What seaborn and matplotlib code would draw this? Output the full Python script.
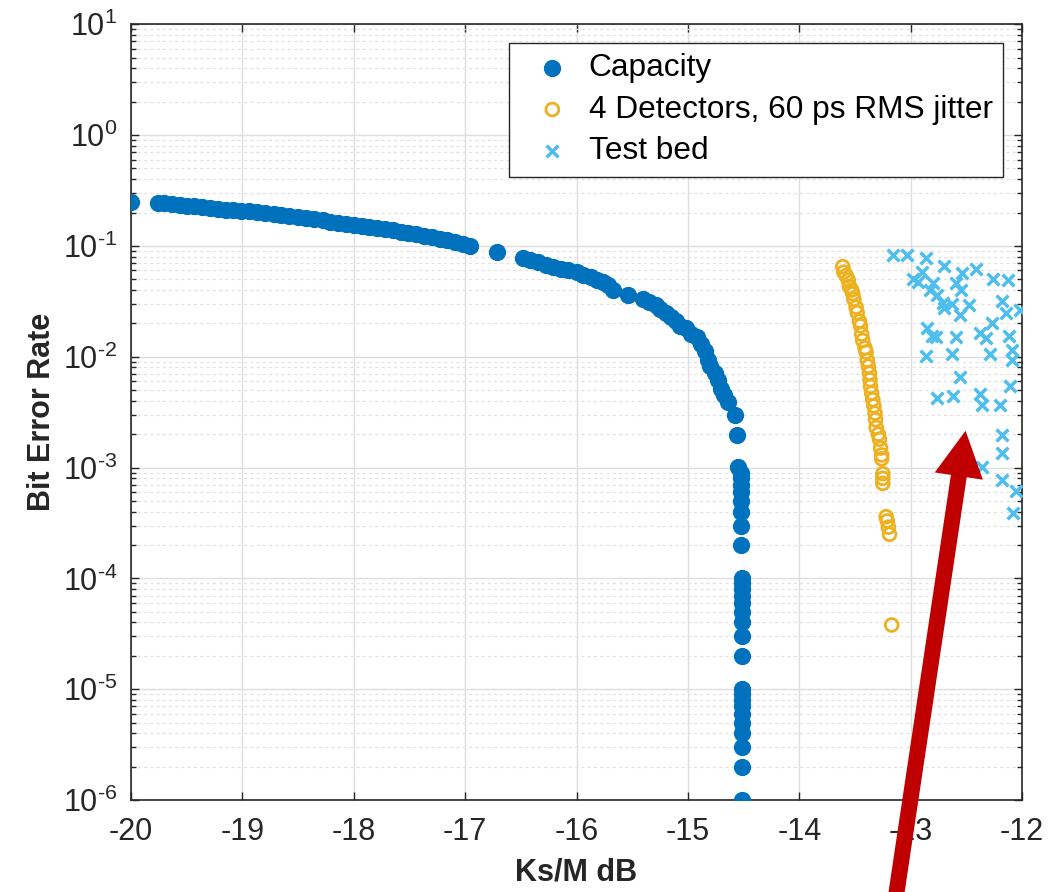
import matplotlib
matplotlib.use("Agg")
import matplotlib.pyplot as plt
import seaborn as sns
import numpy as np
from matplotlib.patches import FancyArrowPatch
from matplotlib.ticker import LogLocator, NullFormatter, MultipleLocator, FuncFormatter

# Capacity curve (Ks/M in dB, bit error rate)
cap_ks = [-20.00, -19.76, -19.70, -19.63, -19.56, -19.50, -19.43, -19.36, -19.29,
          -19.22, -19.15, -19.08, -19.01, -18.94, -18.87, -18.80, -18.72, -18.65,
          -18.58, -18.50, -18.43, -18.36, -18.28, -18.21, -18.14, -18.07, -18.00,
          -17.93, -17.86, -17.79, -17.72, -17.65, -17.58, -17.51, -17.44, -17.37,
          -17.30, -17.23, -17.16, -17.09, -17.02, -16.96, -16.71, -16.48, -16.42,
          -16.35, -16.27, -16.21, -16.14, -16.08, -16.00, -15.94, -15.87, -15.82,
          -15.76, -15.72, -15.67, -15.54, -15.40, -15.35, -15.29, -15.25, -15.20,
          -15.15, -15.11, -15.07, -15.02, -14.97, -14.92, -14.88, -14.85, -14.82,
          -14.80, -14.76, -14.73, -14.70, -14.68, -14.64, -14.58, -14.56, -14.55,
          -14.52, -14.52, -14.52, -14.52, -14.52, -14.52, -14.52, -14.52,
          -14.51, -14.51, -14.51, -14.51, -14.51, -14.51, -14.51, -14.51, -14.51,
          -14.51, -14.51, -14.51, -14.51, -14.51, -14.51, -14.51, -14.51, -14.51,
          -14.51]
cap_ber = [0.250, 0.246, 0.242, 0.238, 0.234, 0.231, 0.228, 0.223, 0.218,
           0.216, 0.213, 0.210, 0.208, 0.205, 0.202, 0.199, 0.195, 0.190,
           0.186, 0.182, 0.178, 0.174, 0.170, 0.166, 0.162, 0.158, 0.155,
           0.151, 0.148, 0.145, 0.141, 0.138, 0.134, 0.130, 0.127, 0.123,
           0.120, 0.116, 0.112, 0.108, 0.104, 0.100, 0.088, 0.078, 0.075,
           0.071, 0.067, 0.064, 0.062, 0.060, 0.058, 0.055, 0.052, 0.049,
           0.047, 0.044, 0.040, 0.036, 0.033, 0.031, 0.029, 0.027, 0.025,
           0.023, 0.021, 0.019, 0.018, 0.016, 0.015, 0.013, 0.0112, 0.0093,
           0.0082, 0.0071, 0.0062, 0.0051, 0.0045, 0.0039, 0.0030, 0.00196, 0.00102,
           9e-4, 8e-4, 7e-4, 6e-4, 5e-4, 4e-4, 3e-4, 2e-4,
           1e-4, 9e-5, 8e-5, 7e-5, 6e-5, 5e-5, 4e-5, 3e-5, 2e-5,
           1e-5, 9e-6, 8e-6, 7e-6, 6e-6, 5e-6, 4e-6, 3e-6, 2e-6,
           1e-6]

# 4 detectors, 60 ps RMS jitter
det_ks = [-13.61, -13.60, -13.58, -13.56, -13.55, -13.53, -13.52, -13.51, -13.49,
          -13.48, -13.46, -13.45, -13.44, -13.43, -13.41, -13.40, -13.39, -13.38,
          -13.37, -13.365, -13.36, -13.35, -13.34, -13.33, -13.32, -13.315, -13.31,
          -13.29, -13.28, -13.27, -13.26, -13.26, -13.25, -13.25, -13.25,
          -13.22, -13.21, -13.20, -13.19, -13.17]
det_ber = [0.065, 0.058, 0.054, 0.049, 0.043, 0.040, 0.037, 0.033, 0.028,
           0.025, 0.021, 0.019, 0.016, 0.014, 0.012, 0.011, 0.0093, 0.0082,
           0.0071, 0.0062, 0.0054, 0.0047, 0.0041, 0.0036, 0.0031, 0.0027, 0.0023,
           0.0020, 0.0018, 0.0015, 0.0013, 0.0012, 0.00088, 0.00080, 0.00072,
           0.00036, 0.00033, 0.00029, 0.00025, 0.000038]

# test bed measurements
bed_ks = [-13.16, -13.03, -12.86, -12.70, -12.90, -12.54, -12.41, -12.98, -12.93,
          -12.26, -12.13, -12.80, -12.59, -12.83, -12.55, -12.76, -12.18, -12.71,
          -12.63, -12.48, -12.70, -12.14, -12.02, -12.56, -12.27, -12.85, -12.81,
          -12.77, -12.59, -12.38, -12.32, -12.12, -12.86, -12.63, -12.29, -12.09,
          -12.09, -12.56, -12.11, -12.76, -12.62, -12.38, -12.36, -12.20, -12.18,
          -12.18, -12.36, -12.18, -12.05, -12.08]
bed_ber = [0.0828, 0.0828, 0.0773, 0.0659, 0.0585, 0.0573, 0.0615, 0.0500, 0.0475,
           0.0500, 0.0492, 0.0466, 0.0460, 0.0400, 0.0400, 0.0361, 0.0318, 0.0307,
           0.0299, 0.0293, 0.0273, 0.0246, 0.0264, 0.0238, 0.0200, 0.0180, 0.0154,
           0.0152, 0.0150, 0.0163, 0.0147, 0.0155, 0.0101, 0.0106, 0.0106, 0.0115,
           0.0093, 0.0065, 0.0054, 0.0042, 0.0044, 0.0046, 0.0037, 0.0037, 0.00196,
           0.00134, 0.00102, 0.00078, 0.00062, 0.00039]

# red arrow: from below the axes up to the test bed cloud
arrow_tail = (-13.14, 1.2e-7)
arrow_tip = (-12.507, 0.00215)

sns.set_style("ticks")
plt.rcParams['font.family'] = ['Liberation Sans', 'DejaVu Sans']
plt.rcParams['mathtext.fontset'] = 'custom'
plt.rcParams['mathtext.rm'] = 'Liberation Sans'
plt.rcParams['mathtext.it'] = 'Liberation Sans'
plt.rcParams['mathtext.bf'] = 'Liberation Sans:bold'
plt.rcParams['mathtext.default'] = 'regular'
plt.rcParams['axes.unicode_minus'] = False

dark = '#262626'
grid_c = '#dedede'


def pow10(v, pos):
    e = int(round(np.log10(v)))
    if e < 0:
        return r'$10^{\text{-}%d}$' % (-e)
    return r'$10^{%d}$' % e


fig = plt.figure(figsize=(10.59, 8.92), dpi=100)
ax = fig.add_axes([0.1237, 0.1031, 0.8414, 0.8697])

sns.scatterplot(x=cap_ks, y=cap_ber, ax=ax, marker='o', s=135, color='#0072BD',
                edgecolor='#0072BD', linewidth=0.8, label='Capacity', zorder=3)
sns.scatterplot(x=det_ks, y=det_ber, ax=ax, marker='o', s=85, color='#EDB120',
                facecolor='none', edgecolor='#EDB120', linewidth=2.0,
                label='4 Detectors, 60 ps RMS jitter', zorder=3)
sns.scatterplot(x=bed_ks, y=bed_ber, ax=ax, marker='x', s=72, color='#4DBEEE',
                linewidth=2.5, label='Test bed', zorder=3)

ax.set_yscale('log')
ax.set_xlim(-20, -12)
ax.set_ylim(1e-6, 10)
ax.xaxis.set_major_locator(MultipleLocator(1))
ax.yaxis.set_major_locator(LogLocator(base=10, numticks=20))
ax.yaxis.set_major_formatter(FuncFormatter(pow10))
ax.yaxis.set_minor_locator(LogLocator(base=10, subs=range(2, 10), numticks=20))
ax.yaxis.set_minor_formatter(NullFormatter())

ax.grid(True, which='major', color=grid_c, linewidth=1.0, linestyle='-')
ax.grid(True, which='minor', axis='y', color='#e2e2e2', linewidth=0.9, linestyle=(0, (2.5, 2.5)))
ax.set_axisbelow(True)

ax.tick_params(which='both', direction='in', top=True, right=True, colors=dark,
               labelsize=22, width=1.0)
ax.tick_params(which='major', length=6)
ax.tick_params(axis='x', which='major', pad=12)
ax.tick_params(axis='y', which='major', pad=10)
ax.tick_params(which='minor', length=3.5)
for sp in ax.spines.values():
    sp.set_color(dark)
    sp.set_linewidth(1.2)

ax.set_xlabel('Ks/M dB', fontsize=22, fontweight='bold', color=dark, labelpad=8)
ax.set_ylabel('Bit Error Rate', fontsize=22, fontweight='bold', color=dark, labelpad=4)

leg = ax.legend(loc='upper right', bbox_to_anchor=(0.9787, 0.9759), borderaxespad=0,
                fontsize=22.8, frameon=True, fancybox=False, framealpha=1,
                edgecolor=dark, handlelength=2.07, handletextpad=0.11,
                borderpad=0.33, labelspacing=0.36)
leg.get_frame().set_linewidth(1.0)
for t in leg.get_texts():
    t.set_color('black')

arrow = FancyArrowPatch(arrow_tail, arrow_tip, transform=ax.transData,
                        arrowstyle='simple,head_width=35,head_length=33,tail_width=11.5',
                        mutation_scale=1, facecolor='#C00000', edgecolor='none',
                        shrinkA=0, shrinkB=0, clip_on=False, zorder=6)
ax.add_patch(arrow)

fig.savefig('out.png', dpi=100)
